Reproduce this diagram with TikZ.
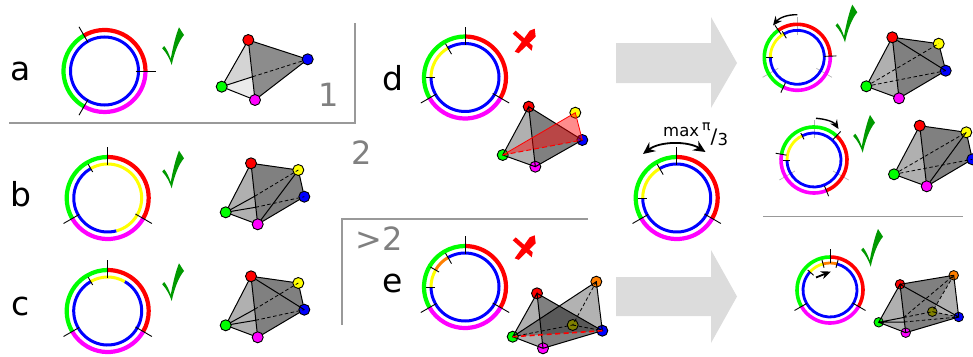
\documentclass[tikz,border=0pt]{standalone}
\usepackage{fontspec}
\setmainfont{DejaVu Sans}
\usetikzlibrary{arrows.meta}
\definecolor{myG}{HTML}{00FF00}
\definecolor{myR}{HTML}{FF0000}
\definecolor{myB}{HTML}{0000FF}
\definecolor{myM}{HTML}{FF00FF}
\definecolor{myY}{HTML}{FFFF00}
\definecolor{myO}{HTML}{FF7F00}
\definecolor{myL}{HTML}{808000}
\definecolor{chkG}{HTML}{009900}
\definecolor{lineG}{HTML}{999999}
\definecolor{txtG}{HTML}{808080}
\definecolor{bigA}{HTML}{DCDCDC}
\definecolor{faceL}{HTML}{B0B0B0}
\definecolor{faceD}{HTML}{808080}
\tikzset{
 vert/.style={circle,draw=black,line width=0.9pt,minimum size=11pt,inner sep=0pt},
 vsm/.style={circle,draw=black,line width=0.8pt,minimum size=9.5pt,inner sep=0pt},
 edge/.style={black,line width=1pt},
 dedge/.style={black,line width=0.8pt,dash pattern=on 3.5pt off 2.5pt},
 tickl/.style={black,line width=0.9pt},
 gtick/.style={black!30,line width=0.7pt},
 rule/.style={lineG,line width=1.8pt},
 lab/.style={anchor=base,inner sep=0pt,font=\fontsize{33}{33}\selectfont},
 glab/.style={anchor=base,inner sep=0pt,text=txtG,font=\fontsize{32}{32}\selectfont},
 curv/.style={black,line width=1.4pt,-{Stealth[length=9pt,width=8pt]}},
}
% #1 centre x, #2 centre y, #3 radius, #4 start, #5 end, #6 colour, #7 width
\newcommand{\seg}[7]{\draw[#6,line width=#7pt] (#1,#2) ++(#4:#3) arc[start angle=#4,end angle=#5,radius=#3];}
% tick: cx cy angle r1 r2
\newcommand{\tk}[5]{\draw[tickl] (#1,#2) ++(#3:#4) -- ++(#3:#5-#4);}
\newcommand{\gtk}[3]{\draw[gtick] (#1,#2) ++(#3:22) -- ++(#3:18);}
\newcommand{\ringbig}[5]{%
 \pgfmathsetmacro{\endg}{#3+360}%
 \seg{#1}{#2}{41}{#3}{#4}{myR}{4.2}\seg{#1}{#2}{41}{#4}{#5}{myM}{4.2}\seg{#1}{#2}{41}{#5}{\endg}{myG}{4.2}}
\newcommand{\ringsmall}[5]{%
 \pgfmathsetmacro{\endg}{#3+360}%
 \seg{#1}{#2}{33}{#3}{#4}{myR}{3.6}\seg{#1}{#2}{33}{#4}{#5}{myM}{3.6}\seg{#1}{#2}{33}{#5}{\endg}{myG}{3.6}}
\newcommand{\chk}[3]{\fill[chkG,shift={(#1,#2)},scale=#3] (0,0) .. controls (-2,-6) and (-5,-12) .. (-9.5,-16.7) -- (-7.5,-19) .. controls (-5,-16) and (-2.5,-11) .. (-1,-6) .. controls (1,-17) and (4,-30) .. (7.3,-37.7) -- (12.3,-30) .. controls (7,-24) and (2.5,-12) .. cycle;}
\newcommand{\crs}[2]{\begin{scope}[shift={(#1,#2)}]\fill[myR] (-11,-8) -- (-8,-11) -- (9,4) -- (8,9) -- cycle; \fill[myR] (-9,10) -- (-5,11.5) -- (12,-5) -- (11,-13) -- (6,-11) -- cycle;\end{scope}}
\begin{document}
\begin{tikzpicture}[yscale=-1,x=1pt,y=1pt]
\useasboundingbox (0,0) rectangle (973,356);
% rules
\draw[rule] (355,23) -- (355,123) -- (9,123);
\draw[rule] (588,219) -- (342,219) -- (342,325);
\draw[rule] (763,216.5) -- (963,216.5);
% big arrows
\fill[bigA] (616,43) -- (711,43) -- (711,17) -- (737,63) -- (711,108) -- (711,83) -- (616,83) -- cycle;
\fill[bigA] (616,277) -- (711,277) -- (711,250) -- (737,296.5) -- (711,343) -- (711,316) -- (616,316) -- cycle;
% labels
\node[lab] (la) at (21,80) {a};
\node[lab] (lb) at (21,206.7) {b};
\node[lab] (lc) at (21,315) {c};
\node[lab] (ld) at (393,90) {d};
\node[lab] (le) at (393,292) {e};
\node[glab] (n1) at (329,106) {1};
\node[glab] (n2) at (362,164) {2};
\node[glab] (n3) at (379,250.7) {>2};
% ---------- rings
% a
\ringbig{104.5}{71}{-120}{0}{120}
\seg{104.5}{71}{34}{0}{360}{myB}{3}
\tk{104.5}{71}{-120}{33}{51}\tk{104.5}{71}{0}{31}{51}\tk{104.5}{71}{120}{33}{51}
% b
\ringbig{107.7}{198}{-90}{30}{150}
\seg{107.7}{198}{34}{75}{240}{myB}{3}\seg{107.7}{198}{34}{240}{435}{myY}{3}
\tk{107.7}{198}{-90}{33}{51}\tk{107.7}{198}{30}{32}{51}\tk{107.7}{198}{150}{33}{51}\tk{107.7}{198}{-120}{30}{39}
% c
\ringbig{107.7}{311}{-90}{30}{150}
\seg{107.7}{311}{34}{-60}{240}{myB}{3}\seg{107.7}{311}{34}{240}{300}{myY}{3}
\tk{107.7}{311}{-90}{33}{51}\tk{107.7}{311}{30}{32}{51}\tk{107.7}{311}{150}{33}{51}\tk{107.7}{311}{-120}{30}{39}
% d
\ringbig{465}{77.5}{-90}{30}{150}
\seg{465}{77.5}{34}{240}{540}{myB}{3}\seg{465}{77.5}{34}{180}{240}{myY}{3}
\tk{465}{77.5}{-90}{33}{51}\tk{465}{77.5}{30}{32}{51}\tk{465}{77.5}{150}{33}{51}\tk{465}{77.5}{-120}{27}{39}\tk{465}{77.5}{180}{30}{39}
% e
\ringbig{465}{287}{-90}{30}{150}
\seg{465}{287}{34}{240}{540}{myB}{3}\seg{465}{287}{34}{180}{210}{myY}{3}\seg{465}{287}{34}{210}{240}{myO}{3}
\tk{465}{287}{-90}{33}{51}\tk{465}{287}{30}{32}{51}\tk{465}{287}{150}{33}{51}\tk{465}{287}{-120}{27}{39}\tk{465}{287}{180}{30}{39}\tk{465}{287}{210}{30}{40}
% centre
\ringbig{676.7}{198}{-90}{30}{150}
\seg{676.7}{198}{34}{240}{540}{myB}{3}\seg{676.7}{198}{34}{180}{240}{myY}{3}
\tk{676.7}{198}{-90}{33}{51}\tk{676.7}{198}{30}{32}{51}\tk{676.7}{198}{150}{33}{51}\tk{676.7}{198}{-120}{27}{39}\tk{676.7}{198}{180}{30}{39}
\coordinate (mL) at (643,154); \coordinate (mR) at (705.5,152);
\draw[black,line width=1.8pt,{Stealth[length=12pt,width=11pt]}-{Stealth[length=12pt,width=11pt]}] (mL) .. controls (660,141) and (688,141) .. (mR);
\node[anchor=base west,inner sep=0pt,font=\fontsize{16.5}{16.5}\selectfont] (maxt) at (663,136) {max};
\node[anchor=base west,inner sep=0pt,font=\fontsize{14}{14}\selectfont] (pit) at (702,130.5) {π};
\node[anchor=base west,inner sep=0pt,font=\fontsize{20}{20}\selectfont] (slt) at (710.5,143) {/};
\node[anchor=base west,inner sep=0pt,font=\fontsize{16.5}{16.5}\selectfont] (thr) at (717.3,145) {3};
% top right ring 1
\gtk{797.3}{57.3}{-90}\gtk{797.3}{57.3}{30}\gtk{797.3}{57.3}{150}
\ringsmall{797.3}{57.3}{-125}{-2}{115}
\seg{797.3}{57.3}{27}{240}{540}{myB}{2.8}\seg{797.3}{57.3}{27}{180}{240}{myY}{2.8}
\tk{797.3}{57.3}{-125}{28}{39}\tk{797.3}{57.3}{-2}{27}{39}\tk{797.3}{57.3}{115}{28}{39}\tk{797.3}{57.3}{-120}{22}{30}\tk{797.3}{57.3}{180}{24}{31}
\coordinate (t1a) at (797.3,14.7); \coordinate (t1b) at (773,25.5);
\draw[curv] (t1a) .. controls (787,14.5) and (779,18) .. (t1b);
% top right ring 2
\gtk{814}{160}{-90}\gtk{814}{160}{30}\gtk{814}{160}{150}
\ringsmall{814}{160}{-47}{68}{190}
\seg{814}{160}{27}{244}{540}{myB}{2.8}\seg{814}{160}{27}{180}{244}{myY}{2.8}
\tk{814}{160}{-47}{28}{39}\tk{814}{160}{68}{28}{39}\tk{814}{160}{190}{28}{39}\tk{814}{160}{-116}{23}{30}\tk{814}{160}{180}{24}{31}
\coordinate (t2a) at (816,118.3); \coordinate (t2b) at (838.5,129);
\draw[curv] (t2a) .. controls (826,119) and (834,122) .. (t2b);
% bottom right ring
\ringsmall{830}{290}{-90}{30}{150}
\seg{830}{290}{27}{-75}{222}{myB}{2.8}\seg{830}{290}{27}{222}{255}{myY}{2.8}\seg{830}{290}{27}{255}{285}{myO}{2.8}
\tk{830}{290}{-90}{27}{41}\tk{830}{290}{30}{26}{41}\tk{830}{290}{150}{27}{41}\tk{830}{290}{-138}{22}{30}\tk{830}{290}{-105}{23}{31}\tk{830}{290}{-75}{23}{31}
\coordinate (brA) at (816,277.5); \coordinate (brB) at (831,271.5);
\draw[black,line width=1.8pt,-{Stealth[length=10pt,width=8pt]}] (brA) -- (brB);
% checks and crosses
\chk{171.7}{65}{1}\chk{171.7}{188.3}{1}\chk{171.7}{301}{1}
\chk{845}{42.3}{1}\chk{862.7}{152.7}{1}\chk{870.7}{266.7}{1}
\crs{523.7}{41.7}\crs{523.7}{248.3}
% ---------- polyhedra
% a
\coordinate (aR) at (248.3,40); \coordinate (aB) at (307.7,59.3); \coordinate (aM) at (255,100); \coordinate (aG) at (221.7,86.7); \coordinate (aX) at (252.7,76.7);
\fill[black!45] (aR) -- (aB) -- (aM) -- cycle;
\fill[black!17] (aR) -- (aX) -- (aG) -- cycle;
\fill[black!8] (aG) -- (aX) -- (aM) -- cycle;
\draw[edge] (aR) -- (aB) -- (aM) -- (aG) -- (aR) -- (aM) (aG) -- (aX);
\draw[dedge] (aX) -- (aB);
\node[vert,fill=myR] (a1) at (aR) {}; \node[vert,fill=myB] (a2) at (aB) {}; \node[vert,fill=myM] (a3) at (aM) {}; \node[vert,fill=myG] (a4) at (aG) {};
% b
\begin{scope}[shift={(251,163.3)}]
\coordinate (bR) at (0,0); \coordinate (bY) at (47.3,6.7); \coordinate (bB) at (53.3,33.4); \coordinate (bM) at (6.7,61); \coordinate (bG) at (-25.3,49); \coordinate (bP) at (3.6,33); \coordinate (bQ) at (4.5,44);
\fill[faceL] (bR) -- (bG) -- (bM) -- cycle;
\fill[faceD] (bR) -- (bY) -- (bB) -- (bM) -- cycle;
\draw[edge] (bR) -- (bY) -- (bB) -- (bM) -- (bG) -- (bR) -- (bM) -- (bY) (bG) -- (bP) (bG) -- (bQ);
\node[vert,fill=myR] (b1) at (bR) {}; \node[vert,fill=myY] (b2) at (bY) {}; \node[vert,fill=myB] (b3) at (bB) {}; \node[vert,fill=myM] (b4) at (bM) {}; \node[vert,fill=myG] (b5) at (bG) {};
\draw[dedge] (bP) -- (b2.center) (bQ) -- (b3.center);
\end{scope}
% c
\begin{scope}[shift={(251,276.3)}]
\coordinate (cR) at (0,0); \coordinate (cY) at (47.3,6.7); \coordinate (cB) at (53.3,33.4); \coordinate (cM) at (6.7,61); \coordinate (cG) at (-25.3,49); \coordinate (cP) at (3.6,33); \coordinate (cQ) at (4.5,44);
\fill[faceL] (cR) -- (cG) -- (cM) -- cycle;
\fill[faceD] (cR) -- (cY) -- (cB) -- (cM) -- cycle;
\draw[edge] (cR) -- (cY) -- (cB) -- (cM) -- (cG) -- (cR) -- (cM) (cG) -- (cP) (cG) -- (cQ);
\node[vert,fill=myR] (c1) at (cR) {}; \node[vert,fill=myY] (c2) at (cY) {}; \node[vert,fill=myB] (c3) at (cB) {}; \node[vert,fill=myM] (c4) at (cM) {}; \node[vert,fill=myG] (c5) at (cG) {};
\draw[edge] (c1) -- (c3.center);
\draw[dedge] (cP) -- (c2.center) (cQ) -- (c3.center);
\end{scope}
% d
\coordinate (dR) at (528.7,106.7); \coordinate (dY) at (575.3,112.7); \coordinate (dB) at (582.3,140); \coordinate (dM) at (535.3,166.7); \coordinate (dG) at (502.7,155);
\fill[faceL] (dR) -- (dG) -- (dM) -- cycle;
\fill[faceD] (dR) -- (dB) -- (dM) -- cycle;
\node[vert,fill=myY] (d2) at (dY) {}; \node[vert,fill=myB] (d3) at (dB) {};
\node[vert,fill=myR] (d1) at (dR) {}; \node[vert,fill=myM] (d4) at (dM) {}; \node[vert,fill=myG] (d5) at (dG) {};
\draw[edge] (d1.center) -- (d3.center) -- (d4.center) -- (d5.center) -- (d1.center) -- (d4.center);
\fill[myR,fill opacity=0.45] (d5.center) -- (d2.center) -- (d3.center) -- cycle;
\draw[myR,line width=0.8pt] (d5.center) -- (d2.center) -- (d3.center);
\draw[myR,line width=1pt,dash pattern=on 5pt off 3pt] (d5.center) -- (d3.center);
% e
\coordinate (eR) at (537,293.3); \coordinate (eO) at (596.3,281.7); \coordinate (eB) at (602.3,330.7); \coordinate (eM) at (543,348.3); \coordinate (eG) at (512.7,336.7); \coordinate (eL) at (572.7,325);
\fill[faceL] (eR) -- (eG) -- (eM) -- cycle;
\fill[faceD] (eR) -- (eB) -- (eM) -- cycle;
\fill[black,fill opacity=0.3] (eG) -- (eO) -- (eB) -- cycle;
\node[vert,fill=myR] (e1) at (eR) {}; \node[vert,fill=myO] (e2) at (eO) {}; \node[vert,fill=myB] (e3) at (eB) {}; \node[vert,fill=myM] (e4) at (eM) {}; \node[vert,fill=myG] (e5) at (eG) {}; \node[vert,fill=myL] (e6) at (eL) {};
\draw[edge] (e1.center) -- (e3.center) -- (e4.center) -- (e5.center) -- (e1.center) -- (e4.center) (e5.center) -- (e2.center) -- (e3.center);
\draw[dedge] (e2.center) -- (e6.center) -- (e5.center) (e6.center) -- (e3.center);
\draw[myR,line width=1.6pt,dash pattern=on 5pt off 3.5pt] (e5.center) -- (e3.center);
% top right 1
\begin{scope}[shift={(892.3,37.3)}]
\coordinate (fR) at (0,0); \coordinate (fY) at (46.4,6.4); \coordinate (fB) at (53.4,33.4); \coordinate (fM) at (6.7,61); \coordinate (fG) at (-26,49);
\fill[faceL] (fR) -- (fG) -- (fM) -- cycle;
\fill[faceD] (fR) -- (fY) -- (fB) -- (fM) -- cycle;
\draw[edge] (fR) -- (fY) -- (fB) -- (fM) -- (fG) -- (fR) -- (fM);
\node[vert,fill=myR] (f1) at (fR) {}; \node[vert,fill=myY] (f2) at (fY) {}; \node[vert,fill=myB] (f3) at (fB) {}; \node[vert,fill=myM] (f4) at (fM) {}; \node[vert,fill=myG] (f5) at (fG) {};
\draw[edge] (f1) -- (f3.center);
\draw[dedge] (f5) -- (f2.center) (f5) -- (f3.center);
\end{scope}
% top right 2
\begin{scope}[shift={(919.7,125.7)}]
\coordinate (gR) at (0,0); \coordinate (gY) at (46.6,6.6); \coordinate (gB) at (52.6,33.6); \coordinate (gM) at (7,60.6); \coordinate (gG) at (-25.7,48.6);
\fill[faceL] (gR) -- (gG) -- (gM) -- cycle;
\fill[faceD] (gR) -- (gY) -- (gB) -- (gM) -- cycle;
\draw[edge] (gR) -- (gY) -- (gB) -- (gM) -- (gG) -- (gR) -- (gM);
\node[vert,fill=myR] (g1) at (gR) {}; \node[vert,fill=myY] (g2) at (gY) {}; \node[vert,fill=myB] (g3) at (gB) {}; \node[vert,fill=myM] (g4) at (gM) {}; \node[vert,fill=myG] (g5) at (gG) {};
\draw[edge] (g4) -- (g2.center);
\draw[dedge] (g5) -- (g2.center) (g5) -- (g3.center);
\end{scope}
% bottom right
\coordinate (hR) at (900,284.3); \coordinate (hO) at (953.7,275.3); \coordinate (hB) at (958.7,317); \coordinate (hM) at (905.7,332.7); \coordinate (hG) at (878.7,322.3); \coordinate (hL) at (932.3,311.7); \coordinate (hP) at (903.5,317.5); \coordinate (hQ) at (904,322);
\fill[faceL] (hR) -- (hG) -- (hM) -- cycle;
\fill[faceL] (hO) -- (hB) -- (hL) -- cycle;
\fill[faceD] (hR) -- (hO) -- (hL) -- (hB) -- (hM) -- cycle;
\node[vsm,fill=myR] (h1) at (hR) {}; \node[vsm,fill=myO] (h2) at (hO) {}; \node[vsm,fill=myB] (h3) at (hB) {}; \node[vsm,fill=myM] (h4) at (hM) {}; \node[vsm,fill=myG] (h5) at (hG) {}; \node[vsm,fill=myL] (h6) at (hL) {};
\draw[edge] (h1.center) -- (h2.center) -- (h3.center) -- (h4.center) -- (h5.center) -- (h1.center) -- (h4.center) (h1.center) -- (h3.center) (h5.center) -- (hP) (h5.center) -- (hQ);
\draw[dedge] (hP) -- (h2.center) (hQ) -- (h3.center) (hP) -- (h6.center) -- (h3.center) (h2.center) -- (h6.center);
\end{tikzpicture}
\end{document}
